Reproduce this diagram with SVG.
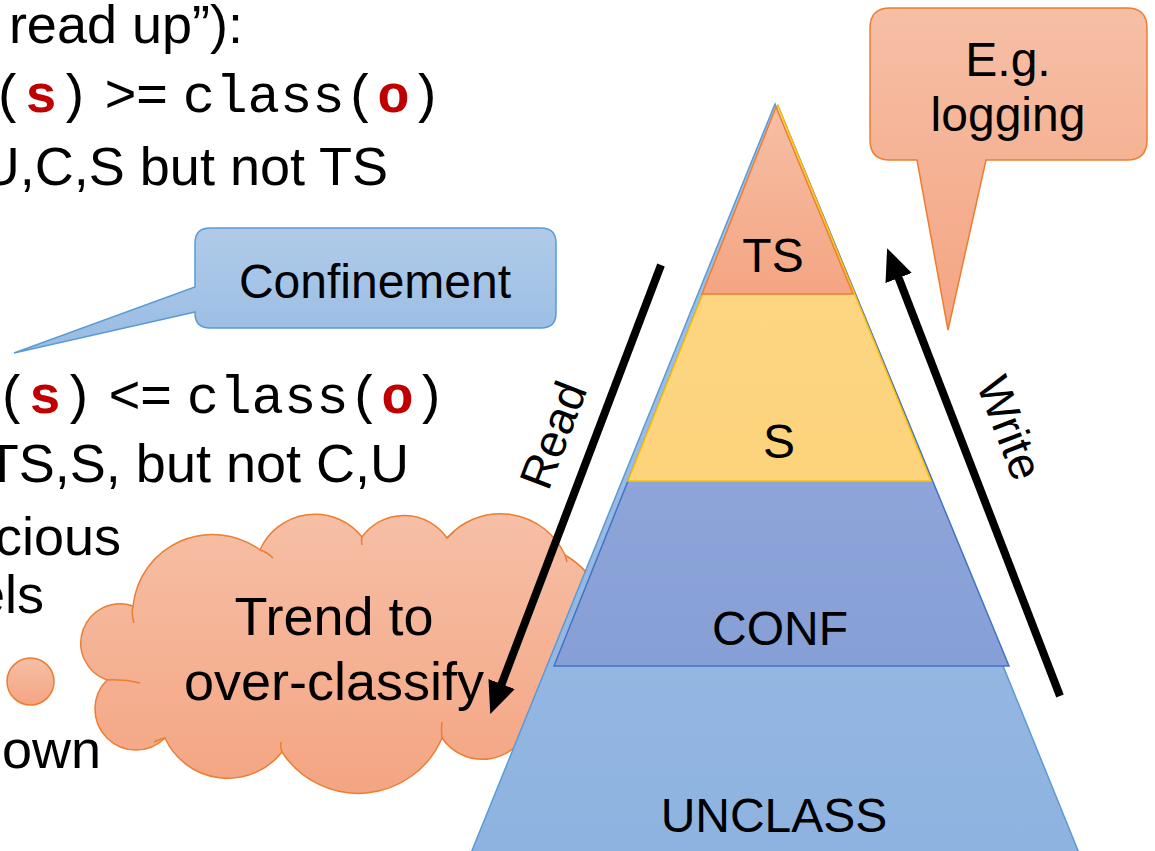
<svg xmlns="http://www.w3.org/2000/svg" width="1155" height="851" viewBox="0 0 1155 851">
<style>
  .t { font-family: "Liberation Sans", Arial, sans-serif; fill: #000; }
  .big { font-size: 54px; }
  .lbl { font-size: 48px; text-anchor: middle; }
  .mono { font-family: "Liberation Mono", "Courier New", monospace; }
  .red { fill: #c00000; font-weight: bold; }
  .arrow { stroke: #000; stroke-width: 8; fill: none; marker-end: url(#ah); }
  .tick { fill: none; stroke: #ed7d31; stroke-width: 1.5; }
</style>
<defs>
  <marker id="ah" viewBox="0 0 10 10" refX="1" refY="5" markerWidth="4" markerHeight="4" orient="auto">
    <path d="M0,0.6 L10,5 L0,9.4 Z" fill="#000"/>
  </marker>
  <linearGradient id="gOrange" x1="0" y1="0" x2="0" y2="1">
    <stop offset="0" stop-color="#f6bfa6"/>
    <stop offset="1" stop-color="#f4a582"/>
  </linearGradient>
  <linearGradient id="gBlueCall" x1="0" y1="0" x2="0" y2="1">
    <stop offset="0" stop-color="#b0cbe9"/>
    <stop offset="1" stop-color="#98bce3"/>
  </linearGradient>
  <linearGradient id="gUnc" x1="0" y1="0" x2="0" y2="1">
    <stop offset="0" stop-color="#a4c2e6"/>
    <stop offset="1" stop-color="#8eb3e0"/>
  </linearGradient>
  <linearGradient id="gConf" x1="0" y1="0" x2="0" y2="1">
    <stop offset="0" stop-color="#9bb0db"/>
    <stop offset="1" stop-color="#869fd6"/>
  </linearGradient>
  <linearGradient id="gS" x1="0" y1="0" x2="0" y2="1">
    <stop offset="0" stop-color="#fed986"/>
    <stop offset="1" stop-color="#fdd37c"/>
  </linearGradient>
</defs>
<rect width="1155" height="851" fill="#fff"/>

<g id="left-text" class="t big">
  <text x="243" y="43" text-anchor="end">read up”):</text>
  <text x="442" y="112" text-anchor="end"><tspan class="mono">(</tspan><tspan class="mono red">s</tspan><tspan class="mono">)</tspan><tspan> &gt;= </tspan><tspan class="mono">class(</tspan><tspan class="mono red">o</tspan><tspan class="mono">)</tspan></text>
  <text x="388" y="185" text-anchor="end">U,C,S but not TS</text>
  <text x="446" y="413" text-anchor="end"><tspan class="mono">(</tspan><tspan class="mono red">s</tspan><tspan class="mono">)</tspan><tspan> &lt;= </tspan><tspan class="mono">class(</tspan><tspan class="mono red">o</tspan><tspan class="mono">)</tspan></text>
  <text x="409" y="482" text-anchor="end">TS,S, but not C,U</text>
  <text x="121" y="555" text-anchor="end">cious</text>
  <text x="44" y="613" text-anchor="end">els</text>
  <text x="101" y="768" text-anchor="end">own</text>
</g>

<g id="bubble-dot">
  <circle cx="30.5" cy="681.5" r="23.5" fill="url(#gOrange)" stroke="#ed7d31" stroke-width="1.5"/>
</g>

<g id="cloud">
  <path d="M133,606 A80,80 0 0 1 260,550 A60,60 0 0 1 362,537 A52,52 0 0 1 447,538 A71,71 0 0 1 565,555 A90,90 0 0 1 530,722 A49,49 0 0 1 442,738 A91,91 0 0 1 282,752 A69,69 0 0 1 165,738 A41,41 0 1 1 107,680 A39,39 0 0 1 133,606 Z" fill="url(#gOrange)" stroke="#ed7d31" stroke-width="1.5"/>
  <path class="tick" d="M133,606 Q131,614 134,623 M107,680 Q124,679 140,683 M260,550 Q267,552 273,558 M362,537 Q361,540 362,545 M447,538 Q450,535 454,532 M565,555 Q566,558 567,562 M442,738 Q441,730 442,722 M282,752 Q280,747 281,742 M165,738 Q160,739 154,742"/>
  <text class="t big" text-anchor="middle" x="334" y="635">Trend to</text>
  <text class="t big" text-anchor="middle" x="334" y="700">over-classify</text>
</g>

<g id="confinement">
  <path d="M210,228 H541 Q556,228 556,243 V313 Q556,328 541,328 H210 Q195,328 195,313 V312 L14,353 L195,287 V243 Q195,228 210,228 Z" fill="url(#gBlueCall)" stroke="#5b9bd5" stroke-width="1.5"/>
  <text class="t lbl" x="375" y="298">Confinement</text>
</g>

<g id="eg-logging">
  <path d="M890,8 H1127 Q1147,8 1147,28 V140 Q1147,160 1127,160 H986 L948,330 L917,160 H890 Q870,160 870,140 V28 Q870,8 890,8 Z" fill="url(#gOrange)" stroke="#ed7d31" stroke-width="1.5"/>
  <text class="t lbl" x="1008" y="76">E.g.</text>
  <text class="t lbl" x="1008" y="131">logging</text>
</g>

<g id="unclass">
  <path d="M775,104 L1079,853 L471,853 Z" fill="url(#gUnc)" stroke="#5b9bd5" stroke-width="1.5"/>
  <text class="t lbl" x="774" y="832">UNCLASS</text>
</g>
<g id="conf">
  <path d="M778,106 L1009,666 L554,666 Z" fill="url(#gConf)" stroke="#4472c4" stroke-width="1.5"/>
  <text class="t lbl" x="780" y="645">CONF</text>
</g>
<g id="s">
  <path d="M778,106 L931,481 L628,481 Z" fill="url(#gS)" stroke="#ffc000" stroke-width="1.5"/>
  <text class="t lbl" x="779" y="458">S</text>
</g>
<g id="ts">
  <path d="M776,107 L853,294 L702,294 Z" fill="url(#gOrange)" stroke="#ed7d31" stroke-width="1.5"/>
  <text class="t lbl" x="773" y="272">TS</text>
</g>

<g id="connectors">
  <line class="arrow" x1="661" y1="265" x2="500.5" y2="687"/>
  <text class="t" font-size="46" text-anchor="middle" transform="translate(553,435) rotate(-69)" y="16">Read</text>
  <line class="arrow" x1="1060" y1="696" x2="897.5" y2="275"/>
  <text class="t" font-size="46" text-anchor="middle" transform="translate(1010,428) rotate(69)" y="16">Write</text>
</g>
</svg>
